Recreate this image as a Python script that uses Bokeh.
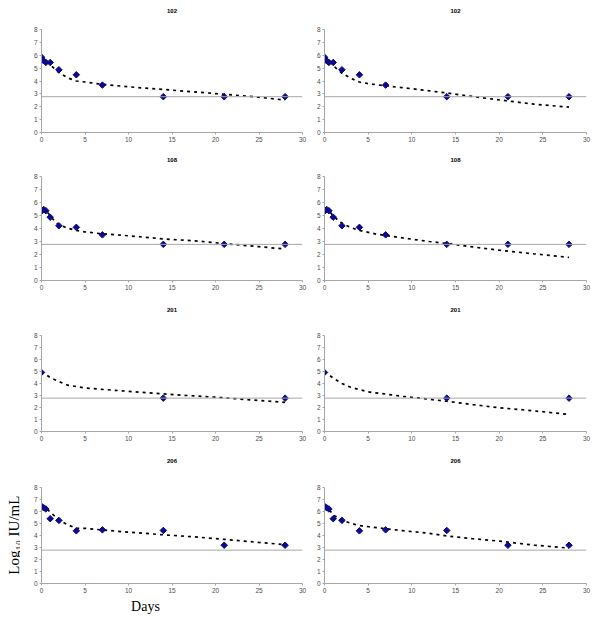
from math import pi
from bokeh.plotting import figure
from bokeh.layouts import column, row
from bokeh.models import Range1d, Span, Label, FixedTicker, Spacer
from bokeh.embed import file_html
from bokeh.resources import INLINE

# ---------------- data ----------------
patients = ["102", "108", "201", "206"]

obs_days_102 = [0, 0.25, 0.5, 1, 2, 4, 7, 14, 21, 28]
obs_102 = [5.85, 5.57, 5.44, 5.44, 4.87, 4.48, 3.68, 2.78, 2.78, 2.78]
obs_days_108 = [0, 0.25, 0.5, 1, 2, 4, 7, 14, 21, 28]
obs_108 = [5.32, 5.46, 5.37, 4.87, 4.21, 4.09, 3.51, 2.78, 2.78, 2.78]
obs_days_201 = [0, 14, 28]
obs_201 = [4.92, 2.78, 2.78]
obs_days_206 = [0, 0.25, 0.5, 1, 2, 4, 7, 14, 21, 28]
obs_206 = [6.43, 6.31, 6.21, 5.4, 5.26, 4.39, 4.47, 4.42, 3.19, 3.19]

# model fits, left column (model A)
fitA_days_102 = [0, 0.5, 1, 1.5, 2, 3, 4, 5, 7, 10, 14, 18, 21, 25, 28]
fitA_102 = [5.85, 5.6, 5.25, 4.95, 4.65, 4.25, 4.0, 3.92, 3.74, 3.55, 3.34, 3.13, 2.97, 2.74, 2.52]
fitA_days_108 = [0, 0.5, 1, 1.5, 2, 3, 4, 5, 7, 10, 14, 18, 21, 25, 28]
fitA_108 = [5.42, 5.38, 5.0, 4.56, 4.28, 4.03, 3.85, 3.74, 3.59, 3.44, 3.2, 3.03, 2.84, 2.6, 2.42]
fitA_days_201 = [0, 1, 2, 3, 5, 7, 10, 14, 17, 20, 24, 28]
fitA_201 = [5.0, 4.5, 4.16, 3.86, 3.63, 3.51, 3.35, 3.13, 2.99, 2.86, 2.64, 2.43]
fitA_days_206 = [0, 0.5, 1, 2, 3, 4, 5, 7, 10, 14, 18, 21, 25, 28]
fitA_206 = [6.5, 6.3, 5.95, 5.3, 4.9, 4.6, 4.6, 4.46, 4.28, 4.06, 3.86, 3.68, 3.42, 3.24]

# model fits, right column (model B)
fitB_days_102 = [0, 0.5, 1, 2, 3, 4, 5, 7, 10, 14, 18, 21, 24, 28]
fitB_102 = [5.85, 5.55, 5.2, 4.6, 4.22, 3.92, 3.8, 3.62, 3.4, 3.07, 2.7, 2.45, 2.2, 1.97]
fitB_days_108 = [0, 0.5, 1, 2, 3, 4, 6, 9, 12, 14, 17, 20, 24, 28]
fitB_108 = [5.45, 5.4, 4.95, 4.4, 4.08, 3.85, 3.56, 3.27, 3.0, 2.85, 2.58, 2.33, 2.05, 1.78]
fitB_days_201 = [0, 1, 2, 3, 5, 7, 9, 11, 14, 17, 20, 24, 28]
fitB_201 = [5.0, 4.45, 4.0, 3.68, 3.3, 3.12, 2.92, 2.77, 2.52, 2.24, 1.98, 1.72, 1.42]
fitB_days_206 = [0, 0.5, 1, 2, 3, 4, 6, 9, 12, 14, 17, 20, 24, 28]
fitB_206 = [6.5, 6.2, 5.7, 5.28, 5.02, 4.82, 4.65, 4.4, 4.18, 3.96, 3.73, 3.53, 3.2, 2.95]

lloq = 2.78
x_ticks = [0, 5, 10, 15, 20, 25, 30]
y_ticks = [0, 1, 2, 3, 4, 5, 6, 7, 8]
y_label = "Log₁₀ IU/mL"
x_label = "Days"

observed = {"102": (obs_days_102, obs_102), "108": (obs_days_108, obs_108),
            "201": (obs_days_201, obs_201), "206": (obs_days_206, obs_206)}
fitsA = {"102": (fitA_days_102, fitA_102), "108": (fitA_days_108, fitA_108),
         "201": (fitA_days_201, fitA_201), "206": (fitA_days_206, fitA_206)}
fitsB = {"102": (fitB_days_102, fitB_102), "108": (fitB_days_108, fitB_108),
         "201": (fitB_days_201, fitB_201), "206": (fitB_days_206, fitB_206)}

# ---------------- layout ----------------
GUTTER = 20
row_geom = [  # (px above frame for 8, frame height, border bottom, title px above frame)
    (29, 103, 21, 18.5),
    (23, 104, 23, 17),
    (32, 96, 24, 26),
    (32, 96, 15, 27),
]
col_geom = [  # (width, border_left, border_right)
    (312 - GUTTER, 41 - GUTTER, 10),
    (288, 12, 14),
]

AXIS_COL = "#a6a6a6"
LABEL_COL = "#4d4d4d"


def make_panel(pid, fit, rg, cg):
    bt, frame_h, bb, tpx = rg
    w, bl, br = cg
    h = bt + frame_h + bb
    ypp = 8.0 / frame_h
    p = figure(width=w, height=h, output_backend="svg", toolbar_location=None,
               x_range=Range1d(0, 30), y_range=Range1d(0, 8 + bt * ypp),
               min_border_left=bl, min_border_right=br,
               min_border_top=0, min_border_bottom=bb)
    p.outline_line_color = None
    p.xgrid.visible = False
    p.ygrid.visible = False
    for ax in (p.xaxis, p.yaxis):
        ax.axis_line_color = AXIS_COL
        ax.major_tick_line_color = AXIS_COL
        ax.minor_tick_line_color = None
        ax.major_tick_out = 2
        ax.major_tick_in = 0
        ax.major_label_standoff = 2
        ax.major_label_text_font = "Liberation Sans"
        ax.major_label_text_font_size = "6.5px"
        ax.major_label_text_color = LABEL_COL
    p.xaxis.ticker = FixedTicker(ticks=x_ticks)
    p.yaxis.ticker = FixedTicker(ticks=y_ticks)
    p.yaxis.bounds = (0, 8)

    p.add_layout(Span(location=lloq, dimension="width", line_color=AXIS_COL, line_width=1))

    fd, fv = fit
    p.line(fd, fv, line_color="black", line_width=1.7, line_dash="3 4")
    od, ov = observed[pid]
    p.scatter(od, ov, marker="square", angle=pi / 4, size=4.6, color="#0a0a8a")

    p.add_layout(Label(x=15, y=8 + tpx * ypp, text=pid, text_align="center",
                       text_baseline="middle", text_font="Liberation Sans",
                       text_font_size="6px", text_font_style="bold", text_color="black"))
    return p, h


def blank(w, h):
    f = figure(width=w, height=h, output_backend="svg", toolbar_location=None,
               x_range=Range1d(0, w), y_range=Range1d(0, h),
               x_axis_location=None, y_axis_location=None,
               min_border=0, min_border_left=0, min_border_right=0,
               min_border_top=0, min_border_bottom=0)
    f.outline_line_color = None
    f.grid.visible = False
    return f


rows = []
for i, pid in enumerate(patients):
    left, h = make_panel(pid, fitsA[pid], row_geom[i], col_geom[0])
    right, _ = make_panel(pid, fitsB[pid], row_geom[i], col_geom[1])
    if i == 3:
        g = blank(GUTTER, h)
        g.add_layout(Label(x=13, y=h - 89, text=y_label, angle=pi / 2,
                           text_align="center", text_baseline="middle",
                           text_font="Liberation Serif", text_font_size="15px",
                           text_color="black"))
    else:
        g = Spacer(width=GUTTER, height=h)
    rows.append(row(g, left, right))

days_h = 23
dfig = blank(600, days_h)
dfig.add_layout(Label(x=145, y=days_h - 8, text=x_label, text_align="center",
                      text_baseline="middle", text_font="Liberation Serif",
                      text_font_size="14px", text_color="black"))
rows.append(dfig)

layout = column(*rows)

open("out.html", "w").write(file_html(layout, INLINE))
